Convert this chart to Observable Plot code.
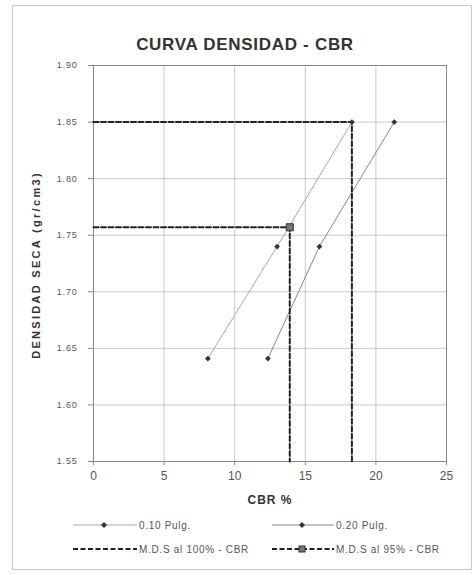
<!DOCTYPE html>
<html>
<head>
<meta charset="utf-8">
<script src="https://cdn.jsdelivr.net/npm/d3@7"></script>
<script src="https://cdn.jsdelivr.net/npm/@observablehq/plot@0.6"></script>
<style>
  body { margin: 0; background: #fff; font-family: "Liberation Sans", Arial, sans-serif; }
  #wrap { position: relative; width: 476px; height: 575px; }
  #border { position: absolute; left: 12px; top: 5px; width: 460px; height: 565px; border: 1px solid #c8c8c8; box-sizing: border-box; }
  #title { position: absolute; left: 12px; width: 466px; top: 35px; text-align: center; font-weight: bold; font-size: 17px; letter-spacing: 0.7px; color: #333; }
  #ylab { position: absolute; left: 36px; top: 265px; transform: translate(-50%, -50%) rotate(-90deg); white-space: nowrap; font-weight: bold; font-size: 11px; letter-spacing: 2.3px; color: #333; }
  #chart { position: absolute; left: 10px; top: 55px; }
  .leg { position: absolute; font-size: 10px; letter-spacing: 0.7px; color: #555; display: flex; align-items: center; }
  .leg svg { margin-right: 2px; }
</style>
</head>
<body>
<div id="wrap">
  <div id="border"></div>
  <div id="title">CURVA DENSIDAD - CBR</div>
  <div id="chart"></div>
  <div id="ylab">DENSIDAD SECA (gr/cm3)</div>
  <div class="leg" style="left:73px; top:518px;"><svg width="64" height="14"><line x1="0" y1="7" x2="64" y2="7" stroke="#aaa" stroke-width="1"/><path d="M31,4 L34,7 L31,10 L28,7Z" fill="#333"/></svg>0.10 Pulg.</div>
  <div class="leg" style="left:272px; top:518px;"><svg width="62" height="14"><line x1="0" y1="7" x2="62" y2="7" stroke="#888" stroke-width="1"/><path d="M30,4 L33,7 L30,10 L27,7Z" fill="#333"/></svg>0.20 Pulg.</div>
  <div class="leg" style="left:73px; top:542px;"><svg width="64" height="14"><line x1="0" y1="7" x2="64" y2="7" stroke="#222" stroke-width="2" stroke-dasharray="5,2.5"/></svg>M.D.S al 100% - CBR</div>
  <div class="leg" style="left:272px; top:542px;"><svg width="62" height="14"><line x1="0" y1="7" x2="62" y2="7" stroke="#222" stroke-width="2" stroke-dasharray="5,2.5"/><rect x="27" y="4" width="6" height="6" fill="#777" stroke="#333" stroke-width="1"/></svg>M.D.S al 95% - CBR</div>
</div>
<script>
// Data
const densidad = [1.641, 1.740, 1.850];
const cbr010 = [8.1, 13.0, 18.3];
const cbr020 = [12.35, 16.0, 21.3];
const mds100 = 1.85;
const cbr100 = 18.3;
const mds95 = 1.757;
const cbr95 = 13.9;
const xTicks = [0, 5, 10, 15, 20, 25];
const yTicks = [1.55, 1.60, 1.65, 1.70, 1.75, 1.80, 1.85, 1.90];
const yMin = 1.55;

const s010 = densidad.map((d, i) => ({x: cbr010[i], y: d}));
const s020 = densidad.map((d, i) => ({x: cbr020[i], y: d}));
const line100 = [{x: 0, y: mds100}, {x: cbr100, y: mds100}, {x: cbr100, y: yMin}];
const line95 = [{x: 0, y: mds95}, {x: cbr95, y: mds95}, {x: cbr95, y: yMin}];

const chart = Plot.plot({
  width: 460,
  height: 455,
  marginLeft: 83,
  marginRight: 24,
  marginTop: 10,
  marginBottom: 49,
  style: {fontFamily: "'Liberation Sans', Arial, sans-serif", background: "transparent"},
  x: {domain: [0, 25], ticks: xTicks, label: null},
  y: {domain: [1.55, 1.90], ticks: yTicks, label: null},
  marks: [
    Plot.gridX(xTicks, {stroke: "#aaa", strokeOpacity: 0.8, strokeWidth: 0.8}),
    Plot.gridY(yTicks, {stroke: "#aaa", strokeOpacity: 0.8, strokeWidth: 0.8}),
    Plot.frame({stroke: "#888", strokeWidth: 1}),
    Plot.axisY(yTicks, {tickFormat: d => d.toFixed(2), tickSize: 5, tickPadding: 11, fontSize: 9, fill: "#555", stroke: "#888", label: null, className: "yax"}),
    Plot.axisX(xTicks, {tickFormat: d => d, tickSize: 4, tickPadding: 6, fontSize: 12, fill: "#555", stroke: "#888", label: null}),
    Plot.text(["CBR %"], {frameAnchor: "bottom", dy: 42, fontSize: 12, fontWeight: "bold", fill: "#333", className: "xlab"}),
    Plot.line(s010, {x: "x", y: "y", stroke: "#aaa", strokeWidth: 1}),
    Plot.line(s020, {x: "x", y: "y", stroke: "#888", strokeWidth: 1}),
    Plot.line(line100, {x: "x", y: "y", stroke: "#222", strokeWidth: 2, strokeDasharray: "5,2.5"}),
    Plot.line(line95, {x: "x", y: "y", stroke: "#222", strokeWidth: 2, strokeDasharray: "5,2.5"}),
    Plot.dot(s010, {x: "x", y: "y", symbol: "diamond2", r: 2.6, fill: "#333", stroke: "none"}),
    Plot.dot(s020, {x: "x", y: "y", symbol: "diamond2", r: 2.6, fill: "#333", stroke: "none"}),
    Plot.dot([{x: cbr95, y: mds95}], {x: "x", y: "y", symbol: "square", r: 4, fill: "#777", stroke: "#333", strokeWidth: 1})
  ]
});
d3.select(chart).selectAll(".xlab text").style("letter-spacing", "1px");
d3.select(chart).selectAll(".yax text").style("letter-spacing", "0.8px");
document.getElementById("chart").appendChild(chart);
</script>
</body>
</html>
